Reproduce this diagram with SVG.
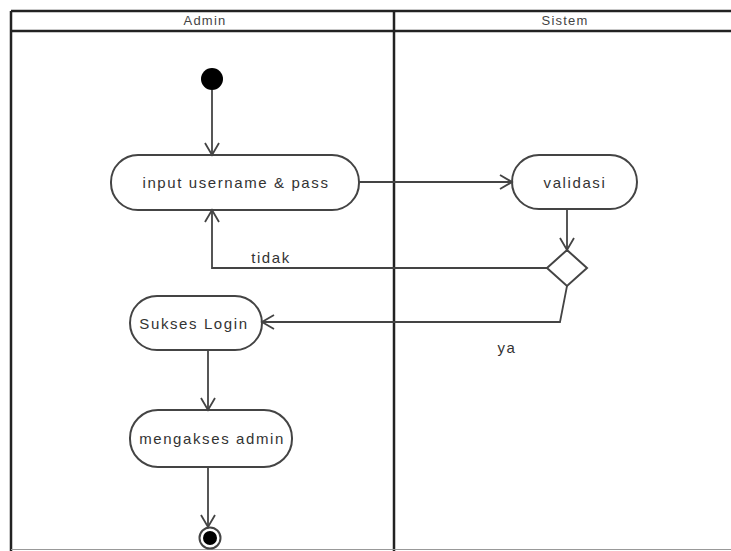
<svg xmlns="http://www.w3.org/2000/svg" width="731" height="551" viewBox="0 0 731 551">
<defs>
<style>
.lane{fill:none;stroke:#222;stroke-width:2.5}
.node{fill:#fff;stroke:#444;stroke-width:2}
.t{font-family:"Liberation Sans",Arial,sans-serif;font-size:15px;letter-spacing:1.6px;fill:#333;text-anchor:middle}
.h{font-family:"Liberation Sans",Arial,sans-serif;font-size:13px;letter-spacing:1.2px;fill:#444;text-anchor:middle}
.c{fill:none;stroke:#444;stroke-width:1.8}
</style>
<marker id="open" markerWidth="16" markerHeight="16" refX="14" refY="8" orient="auto" markerUnits="userSpaceOnUse">
<path d="M2,1 L14,8 L2,15" fill="none" stroke="#444" stroke-width="1.8"/>
</marker>
</defs>
<rect width="731" height="551" fill="#fff"/>
<g id="swimlanes">
<line class="lane" x1="11" y1="11" x2="731" y2="11"/>
<line class="lane" x1="11" y1="31" x2="731" y2="31"/>
<line class="lane" x1="11" y1="11" x2="11" y2="551"/>
<line class="lane" x1="394" y1="11" x2="394" y2="551"/>
<line x1="11" y1="549.5" x2="731" y2="549.5" stroke="#999" stroke-width="1"/>
<text class="h" x="205" y="25">Admin</text>
<text class="h" x="565" y="25">Sistem</text>
</g>
<g id="start"><circle cx="212" cy="79" r="11" fill="#000"/></g>
<g id="input"><rect class="node" x="111" y="155" width="248" height="55" rx="27"/><text class="t" x="236" y="188">input username &amp; pass</text></g>
<g id="validasi"><rect class="node" x="512" y="155" width="125" height="54" rx="27"/><text class="t" x="575" y="188">validasi</text></g>
<g id="decision"><polygon class="node" points="567,250 587,268 567,286 547,268"/></g>
<g id="sukses"><rect class="node" x="130" y="296" width="132" height="54" rx="27"/><text class="t" x="194" y="329">Sukses Login</text></g>
<g id="mengakses"><rect class="node" x="130" y="410" width="162" height="57" rx="28"/><text class="t" x="212" y="444">mengakses admin</text></g>
<g id="end"><circle cx="210" cy="538" r="10.5" fill="#fff" stroke="#444" stroke-width="2"/><circle cx="210" cy="538" r="7" fill="#000"/></g>
<g id="connectors">
<line class="c" x1="212" y1="90" x2="212" y2="155" marker-end="url(#open)"/>
<line class="c" x1="359" y1="182" x2="512" y2="182" marker-end="url(#open)"/>
<line class="c" x1="567" y1="209" x2="567" y2="250" marker-end="url(#open)"/>
<polyline class="c" points="547,268 212,268 212,210" marker-end="url(#open)"/>
<polyline class="c" points="567,286 560,322 262,322" marker-end="url(#open)"/>
<line class="c" x1="208" y1="350" x2="208" y2="410" marker-end="url(#open)"/>
<line class="c" x1="208" y1="467" x2="208" y2="527" marker-end="url(#open)"/>
<text class="t" x="271" y="263">tidak</text>
<text class="t" x="507" y="353">ya</text>
</g>
</svg>
